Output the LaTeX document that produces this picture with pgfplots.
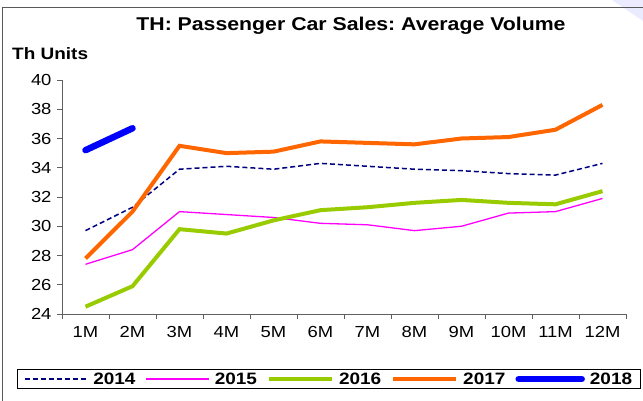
\documentclass[border=0pt]{standalone}
\usepackage{pgfplots}
\pgfplotsset{compat=1.18}
\usepackage{fontspec}
\setmainfont{Liberation Sans}[FakeStretch=1.15]
\frenchspacing
\definecolor{c14}{HTML}{000080}
\definecolor{c15}{HTML}{FF00FF}
\definecolor{c16}{HTML}{99CC00}
\definecolor{c17}{HTML}{FF6600}
\definecolor{c18}{HTML}{0000FF}
\definecolor{axc}{HTML}{606060}
\begin{document}
\begin{tikzpicture}
\path[use as bounding box] (0,0) rectangle (643bp,401bp);
\fill[blue!8!white] (612bp,401bp) -- (643bp,401bp) -- (643bp,380bp) -- cycle;
\draw[black!65, line width=1bp] (2bp,0bp) -- (2bp,393bp) -- (643bp,393bp);
\node[anchor=base, inner sep=0pt, font=\fontsize{18.5bp}{20bp}\selectfont\bfseries] at (351bp,370bp) {\frenchspacing TH: Passenger Car Sales: Average Volume};
\node[anchor=base west, inner sep=0pt, font=\fontsize{16.5bp}{18bp}\selectfont\bfseries] at (12bp,341bp) {Th Units};
\begin{axis}[
  at={(62bp,87bp)}, anchor=south west,
  scale only axis, width=564bp, height=234bp,
  xmin=0.5, xmax=12.5, ymin=24, ymax=40,
  axis lines=left, axis line style={axc, line width=0.8bp, -},
  ytick={24,26,...,40},
  xtick={1,...,12},
  xticklabels={1M,2M,3M,4M,5M,6M,7M,8M,9M,10M,11M,12M},
  minor xtick={0.5,1.5,...,12.5},
  tick align=outside, tick pos=left,
  major tick length=5bp, minor tick length=5bp,
  every tick/.style={axc, line width=0.8bp},
  major x tick style={draw=none},
  tick label style={font=\fontsize{16bp}{18bp}\selectfont},
  /pgf/number format/assume math mode=true,
  yticklabel style={xshift=-2bp},
  xticklabel style={yshift=-4bp},
  legend columns=5,
  legend style={at={(axis description cs:0.4734,-0.2778)}, anchor=center,
    draw=black, line width=0.8bp, font=\fontsize{16.5bp}{18bp}\selectfont\bfseries,
    inner xsep=6bp, inner ysep=1bp,
    /tikz/every odd column/.append style={column sep=3bp},
    /tikz/every even column/.append style={column sep=8bp}},
  legend image code/.code={\draw[#1] (0bp,0bp) -- (63bp,0bp);},
]
\addplot[c14, line width=1.5bp, dash pattern=on 5bp off 3bp] coordinates {(1,29.7)(2,31.3)(3,33.9)(4,34.1)(5,33.9)(6,34.3)(7,34.1)(8,33.9)(9,33.8)(10,33.6)(11,33.5)(12,34.3)};
\addlegendentry{2014}
\addplot[c15, line width=1.3bp] coordinates {(1,27.4)(2,28.4)(3,31.0)(4,30.8)(5,30.6)(6,30.2)(7,30.1)(8,29.7)(9,30.0)(10,30.9)(11,31.0)(12,31.9)};
\addlegendentry{2015}
\addplot[c16, line width=4bp] coordinates {(1,24.5)(2,25.9)(3,29.8)(4,29.5)(5,30.4)(6,31.1)(7,31.3)(8,31.6)(9,31.8)(10,31.6)(11,31.5)(12,32.4)};
\addlegendentry{2016}
\addplot[c17, line width=4bp] coordinates {(1,27.8)(2,31.0)(3,35.5)(4,35.0)(5,35.1)(6,35.8)(7,35.7)(8,35.6)(9,36.0)(10,36.1)(11,36.6)(12,38.3)};
\addlegendentry{2017}
\addplot[c18, line width=6.5bp, line cap=round] coordinates {(1,35.2)(2,36.7)};
\addlegendentry{2018}
\end{axis}
\end{tikzpicture}
\end{document}
